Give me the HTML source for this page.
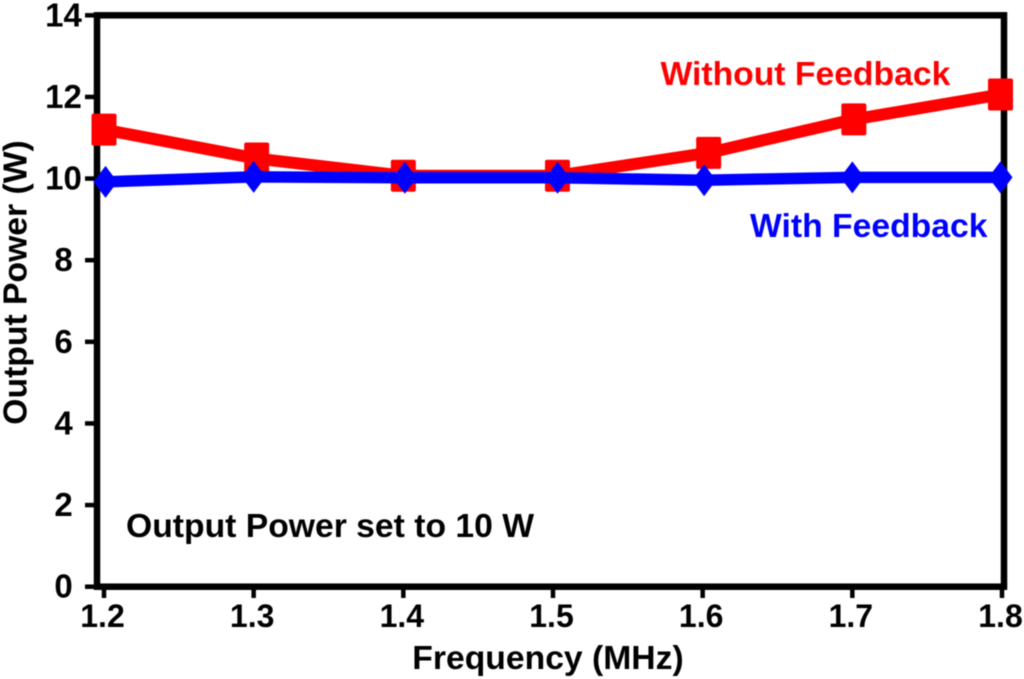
<!DOCTYPE html>
<html>
<head>
<meta charset="utf-8">
<style>
html,body{margin:0;padding:0;background:#fff;}
svg{display:block;filter:blur(0.5px);}
text{font-family:"Liberation Sans",Arial,sans-serif;font-weight:bold;}
</style>
</head>
<body>
<svg id="chart" width="1024" height="679" viewBox="0 0 1024 679" xmlns="http://www.w3.org/2000/svg"></svg>
<script>
const xTicks = [1.2, 1.3, 1.4, 1.5, 1.6, 1.7, 1.8];
const xTickLabels = ["1.2", "1.3", "1.4", "1.5", "1.6", "1.7", "1.8"];
const yTicks = [0, 2, 4, 6, 8, 10, 12, 14];
const withoutFeedbackFreq = [1.2, 1.302, 1.4, 1.503, 1.604, 1.701, 1.799];
const withoutFeedback = [11.2, 10.49, 10.07, 10.07, 10.63, 11.45, 12.06];
const withFeedbackFreq = [1.201, 1.3, 1.401, 1.503, 1.601, 1.7, 1.799];
const withFeedback = [9.92, 10.04, 10.02, 10.02, 9.96, 10.03, 10.03];

const svg = document.getElementById('chart');
const NS = 'http://www.w3.org/2000/svg';
const x = f => 104 + (f - 1.2) / 0.6 * (1002 - 104);
const y = v => 586.7 - v / 14 * (586.7 - 15.3);

function make(tag, attrs, txt) {
  const el = document.createElementNS(NS, tag);
  for (const k in attrs) el.setAttribute(k, attrs[k]);
  if (txt !== undefined) el.textContent = txt;
  svg.appendChild(el);
  return el;
}

// plot frame
const frame = make('rect', {x: 97, y: 15.3, width: 907, height: 571.4, fill: 'none', stroke: '#000', 'stroke-width': 6.5});



// y ticks and labels
yTicks.forEach(v => {
  const t = make('line', {x1: 85, x2: 97, y1: y(v), y2: y(v), stroke: '#000', 'stroke-width': 4.5});
  
  
  const l = make('text', {x: 63.5, y: y(v) + 11, 'text-anchor': 'middle', 'font-size': 33, fill: '#000'}, String(v));
  
  
});

// x ticks and labels
xTicks.forEach((f, i) => {
  const t = make('line', {x1: x(f), x2: x(f), y1: 587, y2: 598, stroke: '#000', 'stroke-width': 4.5});
  
  
  const l = make('text', {x: x(f) - 1.5, y: 627, 'text-anchor': 'middle', 'font-size': 32, fill: '#000'}, xTickLabels[i]);
  
  
});

// series without feedback
const redLine = make('polyline', {
  points: withoutFeedbackFreq.map((f, i) => x(f) + ',' + y(withoutFeedback[i])).join(' '),
  fill: 'none', stroke: '#ff0000', 'stroke-width': 12, 'stroke-linejoin': 'round'
});


withoutFeedbackFreq.forEach((f, i) => {
  const w = 25, h = 32;
  const m = make('rect', {x: x(f) - w / 2, y: y(withoutFeedback[i]) - h / 2, width: w, height: h, rx: 2, fill: '#ff0000'});
  
  
});

// series with feedback
const blueLine = make('polyline', {
  points: withFeedbackFreq.map((f, i) => x(f) + ',' + y(withFeedback[i])).join(' '),
  fill: 'none', stroke: '#0000ff', 'stroke-width': 11.5, 'stroke-linejoin': 'round'
});


withFeedbackFreq.forEach((f, i) => {
  const cx = x(f), cy = y(withFeedback[i]), rx = 12, ry = 16;
  const m = make('polygon', {
    points: [cx - rx, cy, cx, cy - ry, cx + rx, cy, cx, cy + ry].reduce((a, c, j) => a + c + (j % 2 ? ' ' : ','), ''),
    fill: '#0000ff'
  });
  
  
});

// annotation and axis titles
const a1 = make('text', {x: 660.5, y: 85, 'font-size': 33.7, fill: '#ff0000'}, 'Without Feedback');


const a2 = make('text', {x: 750, y: 237, 'font-size': 33.7, fill: '#0000ff'}, 'With Feedback');


const a3 = make('text', {x: 126, y: 537, 'font-size': 33.7, fill: '#000'}, 'Output Power set to 10 W');


const xt = make('text', {x: 548, y: 669, 'text-anchor': 'middle', 'font-size': 33.7, fill: '#000'}, 'Frequency (MHz)');


const yt = make('text', {x: 0, y: 0, 'text-anchor': 'middle', 'font-size': 33.7, fill: '#000', transform: 'translate(26.5,282.5) rotate(-90)'}, 'Output Power (W)');


</script>
</body>
</html>
